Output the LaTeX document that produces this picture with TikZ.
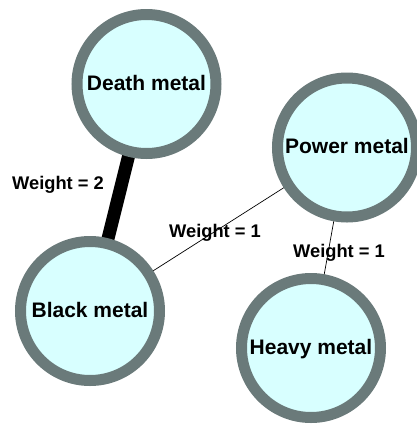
\documentclass[tikz,border=0pt]{standalone}
\usepackage{fontspec}
\setmainfont{Liberation Sans}
\usetikzlibrary{backgrounds}
\definecolor{ringgray}{RGB}{106,122,122}
\definecolor{nodefill}{RGB}{216,255,255}
\tikzset{
  genre/.style={circle, draw=ringgray, fill=nodefill, line width=11pt,
    minimum size=139pt, inner sep=0pt,
    font=\fontsize{21}{21}\selectfont\bfseries, text height=15pt, text depth=3pt},
  wlabel/.style={inner sep=0pt, font=\fontsize{18.3}{18.3}\selectfont\bfseries,
    text height=13.1pt, text depth=0pt},
  heavyedge/.style={line width=13pt, black},
  lightedge/.style={line width=0.7pt, black}
}
\begin{document}
\begin{tikzpicture}[x=1pt, y=-1pt]
\useasboundingbox (0,0) rectangle (417,424);
\node[genre] (death) at (146.5,84) {Death metal};
\node[genre] (power) at (347,147.5) {Power metal};
\node[genre] (black) at (90,311) {Black metal};
\node[genre] (heavy) at (311,348) {Heavy metal};
\begin{scope}[on background layer]
  \draw[heavyedge] (death.center) -- (black.center);
  \draw[lightedge] (black.center) -- (power.center);
  \draw[lightedge] (power.center) -- (heavy.center);
\end{scope}
\node[wlabel] (w2) at (58,183) {Weight = 2};
\node[wlabel] (w1a) at (215,230.5) {Weight = 1};
\node[wlabel] (w1b) at (339,250.5) {Weight = 1};
\end{tikzpicture}
\end{document}
